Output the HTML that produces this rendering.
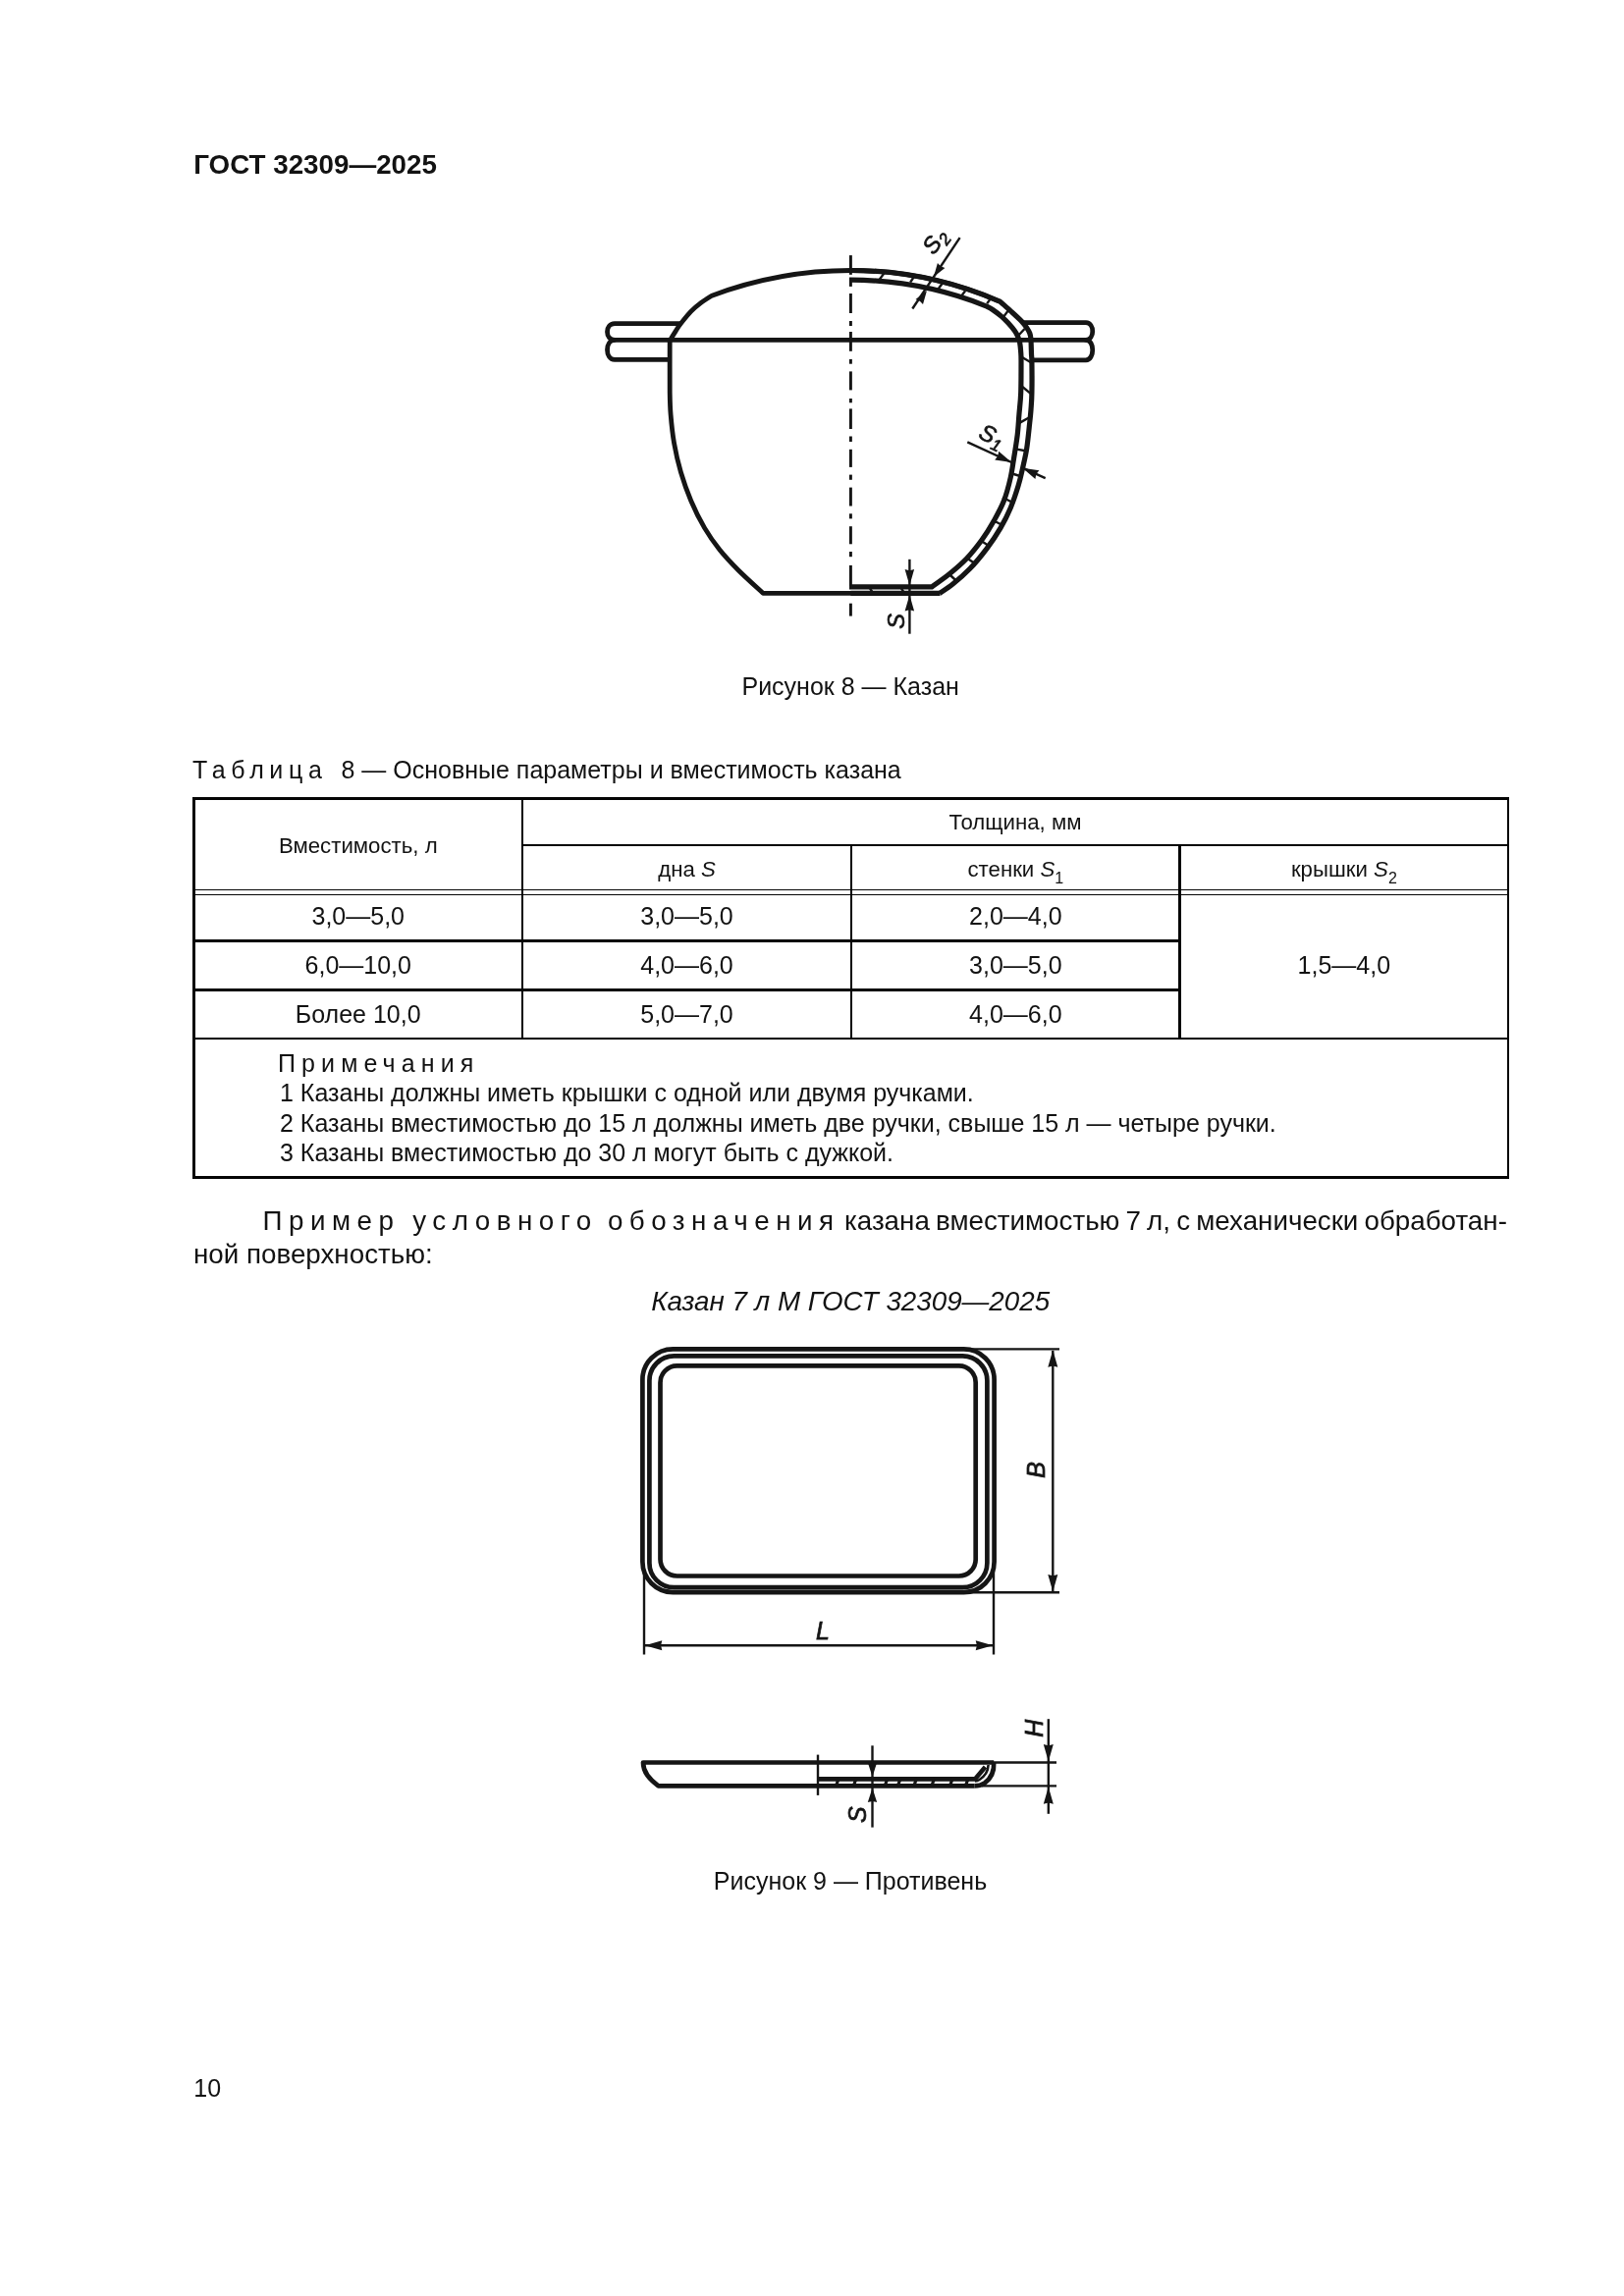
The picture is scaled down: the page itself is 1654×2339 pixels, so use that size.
<!DOCTYPE html>
<html lang="ru"><head><meta charset="utf-8"><title>ГОСТ 32309—2025</title>
<style>
html,body{margin:0;padding:0;background:#fff;}
body{width:1654px;height:2339px;position:relative;overflow:hidden;font-family:"Liberation Sans",sans-serif;color:#121212;}
.t{position:absolute;white-space:nowrap;line-height:1;}
.ln{position:absolute;background:#050505;}
svg{position:absolute;left:0;top:0;}
svg text{font-family:"Liberation Sans",sans-serif;}
#page{position:absolute;left:0;top:0;width:1654px;height:2339px;will-change:transform;}
</style></head><body>
<div id="page">
<svg width="1654" height="700" viewBox="0 0 1654 700">
<g fill="none" stroke="#151515" stroke-width="4.8" stroke-linejoin="round" stroke-linecap="butt">
<path d="M682.6,346.4 C683.5,344.8 686.5,339.9 688.3,337.1 C690.1,334.3 690.8,332.9 693.4,329.6 C696.0,326.3 700.2,320.9 703.6,317.4 C707.0,313.9 710.1,311.3 713.7,308.6 C717.3,305.9 723.1,302.4 725.0,301.2 A402,402 0 0 1 866.4,275.5 A380,380 0 0 1 1016.4,306.4"/>
<path d="M866.4,275.5 A380,380 0 0 1 1016.4,306.4 C1017.0,306.7 1017.7,306.5 1020.0,308.4 C1022.3,310.3 1026.8,314.5 1030.2,317.6 C1033.6,320.7 1037.7,324.4 1040.3,327.1 C1042.9,329.8 1044.3,331.8 1045.7,333.9 C1047.1,336.0 1048.1,337.6 1048.8,339.5 C1049.5,341.4 1049.7,343.0 1049.9,345.0 C1050.1,347.0 1050.1,348.8 1050.2,351.5 C1050.3,354.2 1050.4,358.2 1050.5,361.0 C1050.6,363.8 1050.8,361.8 1050.9,368.3 C1051.0,374.8 1051.1,391.9 1050.9,400.0 C1050.8,408.1 1050.4,411.4 1050.0,417.2 C1049.6,422.9 1049.0,427.9 1048.3,434.5 C1047.6,441.1 1046.8,449.7 1045.7,456.9 C1044.6,464.1 1042.8,471.3 1041.4,477.6 C1040.0,483.9 1039.1,488.2 1037.1,494.8 C1035.1,501.4 1032.3,510.0 1029.3,517.2 C1026.3,524.4 1023.0,531.0 1019.0,537.9 C1015.0,544.8 1010.4,551.7 1005.2,558.6 C1000.0,565.5 993.6,573.3 987.9,579.3 C982.1,585.3 975.9,590.6 970.7,594.8 C965.5,599.0 959.2,602.9 956.9,604.5" stroke-width="5.2"/>
<path d="M865.0,285.2 H866.4 A370.3,370.3 0 0 1 1004.3,311.8 C1005.4,312.4 1008.4,313.7 1011.0,315.5 C1013.6,317.3 1017.4,320.1 1020.0,322.4 C1022.6,324.7 1024.5,326.6 1026.8,329.1 C1029.1,331.6 1031.9,334.9 1033.6,337.3 C1035.3,339.7 1036.1,341.5 1036.9,343.4 C1037.7,345.3 1038.1,346.4 1038.6,348.8 C1039.0,351.2 1039.4,354.4 1039.6,357.6 C1039.8,360.8 1040.0,360.7 1040.0,367.8 C1040.0,374.9 1040.0,390.9 1039.7,400.0 C1039.4,409.1 1038.5,415.2 1037.9,422.4 C1037.3,429.6 1037.1,435.9 1036.2,443.1 C1035.3,450.3 1034.0,458.3 1032.8,465.5 C1031.6,472.7 1031.0,478.7 1029.3,486.2 C1027.6,493.7 1025.3,502.8 1022.4,510.3 C1019.5,517.8 1015.7,524.4 1012.0,531.0 C1008.3,537.6 1004.6,543.7 1000.0,550.0 C995.4,556.3 990.0,563.2 984.5,569.0 C979.0,574.8 973.1,579.7 967.2,584.5 C961.3,589.3 952.1,595.6 949.1,597.8 L865.0,597.8" stroke-width="5.2"/>
<path d="M682.2,346.2 C682.2,355.2 682.1,387.3 682.2,400.0 C682.4,412.7 682.4,413.8 683.1,422.4 C683.8,431.0 684.9,441.9 686.6,451.7 C688.3,461.5 690.5,471.2 693.4,481.0 C696.3,490.8 699.8,500.8 703.8,510.3 C707.8,519.8 712.7,529.6 717.6,537.9 C722.5,546.2 727.4,553.1 733.1,560.3 C738.9,567.5 744.8,573.7 752.1,581.0 C759.4,588.3 772.9,600.4 777.1,604.3 L956.9,604.3"/>
<path d="M866.4,604.4 H957.5" stroke-width="5.2"/>
<path d="M624,346.3 H1108.6"/>
<path d="M694,329.7 H626 C616,330 616,346 626,346.3 C616,346.6 616,366 626,366.4 H682"/>
<path d="M1041.4,328.6 H1106 C1115,329 1115,346 1106,346.3 C1115,346.6 1115,366.5 1106,366.9 H1050.9"/>
</g>
<g stroke="#151515" stroke-width="2.95">
<line x1="866.4" y1="260.1" x2="866.4" y2="279.8"/>
<line x1="866.4" y1="283.3" x2="866.4" y2="291.9"/>
<line x1="866.4" y1="299" x2="866.4" y2="319"/>
<line x1="866.4" y1="327" x2="866.4" y2="332"/>
<line x1="866.4" y1="338" x2="866.4" y2="357.8"/>
<line x1="866.4" y1="365.9" x2="866.4" y2="370.7"/>
<line x1="866.4" y1="378.4" x2="866.4" y2="397.4"/>
<line x1="866.4" y1="406" x2="866.4" y2="410.3"/>
<line x1="866.4" y1="416.4" x2="866.4" y2="437"/>
<line x1="866.4" y1="444.5" x2="866.4" y2="450"/>
<line x1="866.4" y1="457.8" x2="866.4" y2="475.9"/>
<line x1="866.4" y1="483.6" x2="866.4" y2="488.8"/>
<line x1="866.4" y1="496.6" x2="866.4" y2="515.5"/>
<line x1="866.4" y1="523.3" x2="866.4" y2="528.4"/>
<line x1="866.4" y1="536.2" x2="866.4" y2="554.3"/>
<line x1="866.4" y1="562" x2="866.4" y2="567.2"/>
<line x1="866.4" y1="575.9" x2="866.4" y2="597"/>
<line x1="866.4" y1="614.7" x2="866.4" y2="627.6"/>
</g>
<g stroke="#151515" stroke-width="2.4">
<line x1="895.2" y1="285.5" x2="901.7" y2="276.6"/>
<line x1="927.1" y1="287.6" x2="930.8" y2="282.0"/>
<line x1="955.7" y1="294.3" x2="960" y2="288.2"/>
<line x1="979.4" y1="301.2" x2="983.1" y2="296.2"/>
<line x1="1005.2" y1="309.2" x2="1009.5" y2="303.4"/>
<line x1="1021.5" y1="323.5" x2="1027.5" y2="315.5"/>
<line x1="1037.5" y1="341.5" x2="1043.5" y2="335"/>
<line x1="1041" y1="364" x2="1050.9" y2="369.7"/>
<line x1="1040.3" y1="393.3" x2="1050.9" y2="401.9"/>
<line x1="1038.3" y1="430.9" x2="1048.3" y2="425.3"/>
<line x1="1034.3" y1="457.4" x2="1044.4" y2="459.2"/>
<line x1="1029.2" y1="482.0" x2="1039" y2="485"/>
<line x1="1021.2" y1="506.7" x2="1030" y2="511.2"/>
<line x1="1011.7" y1="530.3" x2="1020.4" y2="534.8"/>
<line x1="999.3" y1="551" x2="1007.8" y2="556.4"/>
<line x1="985.8" y1="569.2" x2="993.6" y2="574.5"/>
<line x1="966.8" y1="585" x2="973.8" y2="591.5"/>
<line x1="885" y1="597.8" x2="889.3" y2="604.3"/>
<line x1="916.9" y1="597.8" x2="921.2" y2="604.3"/>
</g>
<g stroke="#151515" stroke-width="2.4" fill="#151515">
<line x1="977.6" y1="242.1" x2="929.3" y2="314.5"/>
<polygon stroke="none" points="950.9,282.0 954.9,267.9 958.1,271.2 962.4,272.9"/>
<polygon stroke="none" points="944.0,295.9 940.0,310.0 936.8,306.7 932.5,305.0"/>
<line x1="985.3" y1="450.3" x2="1030.2" y2="471"/>
<line x1="1041.4" y1="476.7" x2="1064.7" y2="487.1"/>
<polygon stroke="none" points="1030.2,471.0 1013.2,468.4 1016.3,464.6 1017.2,459.8"/>
<polygon stroke="none" points="1041.4,476.7 1058.4,479.3 1055.3,483.1 1054.4,487.9"/>
<line x1="926.4" y1="569.8" x2="926.4" y2="645.7"/>
<polygon stroke="none" points="926.4,596.6 921.6,580.1 926.4,581.3 931.1,580.1"/>
<polygon stroke="none" points="926.4,606.0 931.1,622.5 926.4,621.3 921.6,622.5"/>
</g>
<g fill="#151515" font-style="italic" font-size="23.5" stroke="#151515" stroke-width="0.7">
<text transform="translate(958.5,250.3) rotate(-54)" text-anchor="middle">S<tspan font-size="17" dy="5">2</tspan></text>
<text transform="translate(1007,451) rotate(25)" text-anchor="middle">S<tspan font-size="17" dy="5">1</tspan></text>
<text transform="translate(920.5,632.8) rotate(-90)" text-anchor="middle">S</text>
</g>
</svg>
<svg width="1654" height="600" viewBox="0 1340 1654 600" style="top:1340px">
<g fill="none" stroke="#151515" stroke-width="4.7" stroke-linejoin="round">
<rect x="654.4" y="1374.4" width="358.2" height="247.7" rx="31" ry="31"/>
<rect x="661.4" y="1381.4" width="344.0" height="235.8" rx="25" ry="25"/>
<rect x="672.5" y="1391.4" width="321.2" height="214.1" rx="17" ry="17"/>
<path d="M1012.2,1795.5 H655 C655,1806 662,1813 670.5,1819.4 H992.4"/>
<path d="M1012.2,1795.5 C1012.6,1804 1009,1812 1002.8,1816.5 C999,1819 996,1819.4 992.4,1819.4"/>
</g>
<g fill="none" stroke="#151515" stroke-width="4.6" stroke-linejoin="round">
<path d="M833,1812.4 H993 L1003.5,1800"/>
<path d="M1006.6,1798 C1006.4,1804 1003,1809.5 997.6,1813 C996,1814 994.5,1814.4 993,1814.5" stroke-width="2.6"/>
</g>
<g stroke="#151515" stroke-width="2.4" fill="#151515">
<line x1="854.1" y1="1812" x2="851.6" y2="1819" stroke-width="3.2"/>
<line x1="871.9" y1="1812" x2="869.4" y2="1819" stroke-width="3.2"/>
<line x1="903.8" y1="1812" x2="901.3" y2="1819" stroke-width="3.2"/>
<line x1="917" y1="1812" x2="914.5" y2="1819" stroke-width="3.2"/>
<line x1="933.4" y1="1812" x2="930.9" y2="1819" stroke-width="3.2"/>
<line x1="951.5" y1="1812" x2="949.0" y2="1819" stroke-width="3.2"/>
<line x1="970.1" y1="1812" x2="967.6" y2="1819" stroke-width="3.2"/>
<line x1="986" y1="1812" x2="983.5" y2="1819" stroke-width="3.2"/>
<line x1="833" y1="1787.6" x2="833" y2="1828.9"/>
<line x1="986" y1="1374.4" x2="1079" y2="1374.4"/>
<line x1="986" y1="1622.3" x2="1079" y2="1622.3"/>
<line x1="1072.3" y1="1376" x2="1072.3" y2="1621"/>
<polygon stroke="none" points="1072.3,1375.2 1077.3,1392.7 1072.3,1391.5 1067.3,1392.7"/>
<polygon stroke="none" points="1072.3,1621.5 1067.3,1604.0 1072.3,1605.2 1077.3,1604.0"/>
<line x1="656" y1="1600" x2="656" y2="1685.5"/>
<line x1="1012" y1="1600" x2="1012" y2="1685.5"/>
<line x1="657" y1="1676.3" x2="1011" y2="1676.3"/>
<polygon stroke="none" points="656.8,1676.3 674.3,1671.3 673.1,1676.3 674.3,1681.3"/>
<polygon stroke="none" points="1011.2,1676.3 993.7,1681.3 994.9,1676.3 993.7,1671.3"/>
<line x1="888.5" y1="1778.3" x2="888.5" y2="1861.6"/>
<polygon stroke="none" points="888.5,1810.0 883.8,1795.5 888.5,1796.5 893.2,1795.5"/>
<polygon stroke="none" points="888.5,1821.5 893.2,1836.0 888.5,1835.0 883.8,1836.0"/>
<line x1="1010" y1="1795.5" x2="1076" y2="1795.5"/>
<line x1="1000" y1="1819.4" x2="1076" y2="1819.4"/>
<line x1="1067.8" y1="1751.2" x2="1067.8" y2="1847.8"/>
<polygon stroke="none" points="1067.8,1794.6 1062.8,1777.1 1067.8,1778.3 1072.8,1777.1"/>
<polygon stroke="none" points="1067.8,1820.3 1072.8,1837.8 1067.8,1836.6 1062.8,1837.8"/>
</g>
<g fill="#151515" font-style="italic" font-size="25" stroke="#151515" stroke-width="0.75">
<text x="838" y="1670" text-anchor="middle">L</text>
<text transform="translate(1063.5,1497.5) rotate(-90)" text-anchor="middle">B</text>
<text transform="translate(1062,1760.7) rotate(-90)" text-anchor="middle">H</text>
<text transform="translate(882,1848.6) rotate(-90)" text-anchor="middle">S</text>
</g>
</svg>
<div class="t" style="top:153.98px;font-size:27.78px;font-weight:bold;left:197.20px;">ГОСТ 32309—2025</div>
<div class="t" style="top:687.33px;font-size:25.0px;left:266.20px;width:1200px;text-align:center;">Рисунок 8 — Казан</div>
<div class="t" style="top:771.93px;font-size:25.0px;left:196.00px;"><span style="letter-spacing:5.63px">Таблица</span></div>
<div class="t" style="top:771.93px;font-size:25.0px;left:347.50px;">8 — Основные параметры и вместимость казана</div>
<div class="ln" style="left:196.00px;top:811.95px;width:1341.00px;height:2.90px"></div>
<div class="ln" style="left:196.00px;top:1198.00px;width:1341.00px;height:3.00px"></div>
<div class="ln" style="left:196.00px;top:813.00px;width:3.00px;height:386.50px"></div>
<div class="ln" style="left:1535.00px;top:813.00px;width:2.00px;height:386.50px"></div>
<div class="ln" style="left:532.00px;top:860.00px;width:1004.00px;height:2.00px"></div>
<div class="ln" style="left:197.50px;top:906.00px;width:1338.50px;height:1.20px"></div>
<div class="ln" style="left:197.50px;top:910.80px;width:1338.50px;height:1.40px"></div>
<div class="ln" style="left:197.50px;top:957.00px;width:1004.20px;height:3.00px"></div>
<div class="ln" style="left:197.50px;top:1007.00px;width:1004.20px;height:3.00px"></div>
<div class="ln" style="left:197.50px;top:1056.80px;width:1338.50px;height:2.00px"></div>
<div class="ln" style="left:531.00px;top:813.00px;width:2.00px;height:244.80px"></div>
<div class="ln" style="left:866.00px;top:861.00px;width:2.00px;height:196.80px"></div>
<div class="ln" style="left:1200.45px;top:861.00px;width:2.50px;height:196.80px"></div>
<div class="t" style="top:850.89px;font-size:22.22px;left:-235.25px;width:1200px;text-align:center;">Вместимость, л</div>
<div class="t" style="top:826.79px;font-size:22.22px;left:434.00px;width:1200px;text-align:center;">Толщина, мм</div>
<div class="t" style="top:875.39px;font-size:22.22px;left:99.50px;width:1200px;text-align:center;">дна <i>S</i></div>
<div class="t" style="top:875.39px;font-size:22.22px;left:434.35px;width:1200px;text-align:center;">стенки <i>S</i><span style="font-size:16px;position:relative;top:6.5px;font-style:normal">1</span></div>
<div class="t" style="top:875.39px;font-size:22.22px;left:768.85px;width:1200px;text-align:center;">крышки <i>S</i><span style="font-size:16px;position:relative;top:6.5px;font-style:normal">2</span></div>
<div class="t" style="top:920.93px;font-size:25.0px;left:-235.25px;width:1200px;text-align:center;">3,0—5,0</div>
<div class="t" style="top:920.93px;font-size:25.0px;left:99.50px;width:1200px;text-align:center;">3,0—5,0</div>
<div class="t" style="top:920.93px;font-size:25.0px;left:434.35px;width:1200px;text-align:center;">2,0—4,0</div>
<div class="t" style="top:970.83px;font-size:25.0px;left:-235.25px;width:1200px;text-align:center;">6,0—10,0</div>
<div class="t" style="top:970.83px;font-size:25.0px;left:99.50px;width:1200px;text-align:center;">4,0—6,0</div>
<div class="t" style="top:970.83px;font-size:25.0px;left:434.35px;width:1200px;text-align:center;">3,0—5,0</div>
<div class="t" style="top:1020.83px;font-size:25.0px;left:-235.25px;width:1200px;text-align:center;">Более 10,0</div>
<div class="t" style="top:1020.83px;font-size:25.0px;left:99.50px;width:1200px;text-align:center;">5,0—7,0</div>
<div class="t" style="top:1020.83px;font-size:25.0px;left:434.35px;width:1200px;text-align:center;">4,0—6,0</div>
<div class="t" style="top:970.83px;font-size:25.0px;left:768.85px;width:1200px;text-align:center;">1,5—4,0</div>
<div class="t" style="top:1070.83px;font-size:25.0px;left:283.00px;"><span style="letter-spacing:6.1px">Примечания</span></div>
<div class="t" style="top:1101.33px;font-size:25.0px;left:285.00px;">1 Казаны должны иметь крышки с одной или двумя ручками.</div>
<div class="t" style="top:1131.83px;font-size:25.0px;left:285.00px;">2 Казаны вместимостью до 15 л должны иметь две ручки, свыше 15 л — четыре ручки.</div>
<div class="t" style="top:1161.83px;font-size:25.0px;left:285.00px;">3 Казаны вместимостью до 30 л могут быть с дужкой.</div>
<div class="t" style="top:1229.98px;font-size:27.78px;left:267.50px;"><span style="letter-spacing:6.5px">Пример</span></div>
<div class="t" style="top:1229.98px;font-size:27.78px;left:420.30px;"><span style="letter-spacing:6.5px">условного</span></div>
<div class="t" style="top:1229.98px;font-size:27.78px;left:618.90px;"><span style="letter-spacing:6.5px">обозначения</span></div>
<div class="t" style="top:1229.98px;font-size:27.78px;word-spacing:-1.6px;left:860.00px;">казана вместимостью 7 л, с механически обработан-</div>
<div class="t" style="top:1263.98px;font-size:27.78px;left:197.00px;">ной поверхностью:</div>
<div class="t" style="top:1311.98px;font-size:27.78px;font-style:italic;left:266.20px;width:1200px;text-align:center;">Казан 7 л М ГОСТ 32309—2025</div>
<div class="t" style="top:1904.03px;font-size:25.0px;left:266.00px;width:1200px;text-align:center;">Рисунок 9 — Противень</div>
<div class="t" style="top:2115.33px;font-size:25.0px;left:197.30px;">10</div>
</div>
</body></html>
